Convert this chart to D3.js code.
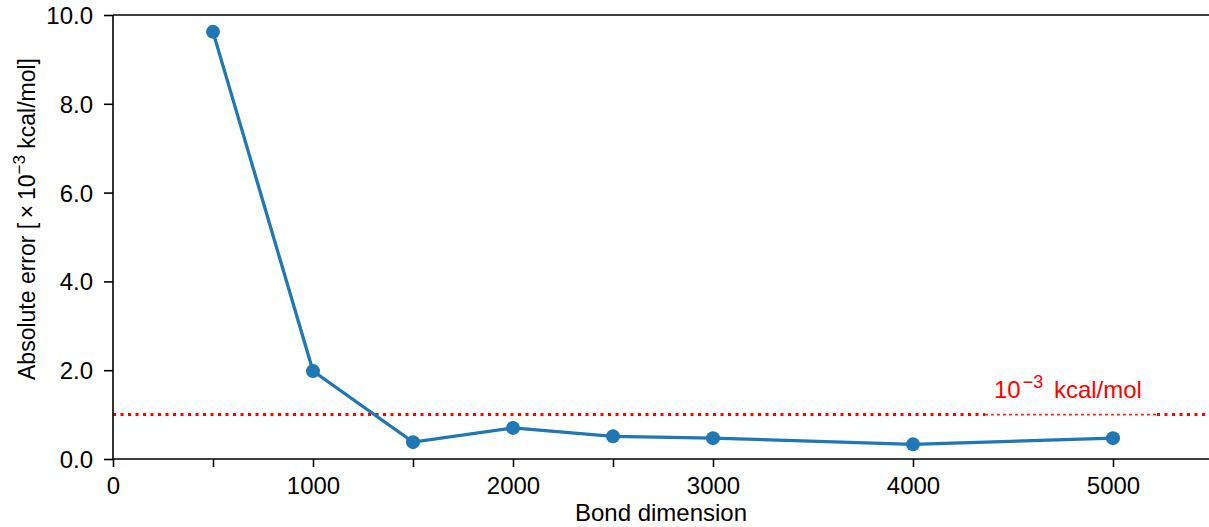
<!DOCTYPE html>
<html><head><meta charset="utf-8">
<script src="https://cdn.jsdelivr.net/npm/d3@7"></script>
<style>body{margin:0;background:#fff}svg{display:block}text{font-family:"Liberation Sans",Arial,sans-serif}</style>
</head><body>
<svg id="c" width="1209" height="527"></svg>
<script>
const bondDims = [500, 1000, 1500, 2000, 2500, 3000, 4000, 5000];
const absError = [9.62, 1.98, 0.38, 0.70, 0.51, 0.47, 0.33, 0.47];
const xTicks = [0, 500, 1000, 1500, 2000, 2500, 3000, 4000, 5000];
const xLabelTicks = [0, 1000, 2000, 3000, 4000, 5000];
const yTicks = [0, 2, 4, 6, 8, 10];
const threshold = 1.0;

const svg = d3.select("#c");
const L = 113, R = 1213, T = 15, B = 459;
const x = d3.scaleLinear().domain([0, 5500]).range([L, R]);
const y = d3.scaleLinear().domain([0, 10]).range([B, T]);
const fs = 24, sup = 18;

// threshold line
const ty = y(threshold);
const gap0 = 985, gap1 = 1157;
svg.append("line").attr("x1", L).attr("x2", gap0).attr("y1", ty).attr("y2", ty)
  .attr("stroke", "#ff0000").attr("stroke-width", 3).attr("stroke-dasharray", "3,4.5");
svg.append("line").attr("x1", gap0).attr("x2", gap1).attr("y1", ty).attr("y2", ty)
  .attr("stroke", "#ff0000").attr("stroke-width", 1.6).attr("stroke-dasharray", "3,3").attr("opacity", 0.85);
svg.append("line").attr("x1", gap1).attr("x2", 1209).attr("y1", ty).attr("y2", ty)
  .attr("stroke", "#ff0000").attr("stroke-width", 3).attr("stroke-dasharray", "3,4.5");

const lbl = svg.append("text").attr("x", 994).attr("y", 398).attr("fill", "#ff0000").attr("font-size", fs);
lbl.append("tspan").text("10");
lbl.append("tspan").attr("dy", -10).attr("dx", 2).attr("font-size", sup).text("\u22123");
lbl.append("tspan").attr("dy", 10).attr("dx", 4).text(" kcal/mol");

// data line
const line = d3.line().x((d, i) => x(bondDims[i])).y(d => y(d));
svg.append("path").datum(absError).attr("d", line).attr("fill", "none")
  .attr("stroke", "#1f77b4").attr("stroke-width", 3.3);
svg.selectAll("circle.pt").data(absError).enter().append("circle")
  .attr("cx", (d, i) => x(bondDims[i])).attr("cy", d => y(d)).attr("r", 7).attr("fill", "#1f77b4");

// axes
const xAxis = d3.axisBottom(x).tickValues(xTicks).tickSize(8).tickPadding(10)
  .tickFormat(d => xLabelTicks.includes(d) ? d3.format("d")(d) : "");
const gx = svg.append("g").attr("transform", `translate(0,${B})`).call(xAxis);
const yAxis = d3.axisLeft(y).tickValues(yTicks).tickSize(9).tickPadding(11).tickFormat(d3.format(".1f"));
const gy = svg.append("g").attr("transform", `translate(${L},0)`).call(yAxis);
[gx, gy].forEach(g => {
  g.selectAll("text").attr("font-size", fs).attr("fill", "#000").style("font-family", '"Liberation Sans",Arial,sans-serif');
  g.selectAll("line").attr("stroke", "#000").attr("stroke-width", 1.6);
  g.select(".domain").remove();
});
gy.selectAll("text").attr("dy", "0.35em");

// spines
svg.append("line").attr("x1", L).attr("x2", 1209).attr("y1", T).attr("y2", T).attr("stroke", "#000").attr("stroke-width", 1.6);
svg.append("line").attr("x1", L).attr("x2", 1209).attr("y1", B).attr("y2", B).attr("stroke", "#000").attr("stroke-width", 1.6);
svg.append("line").attr("x1", L).attr("x2", L).attr("y1", T).attr("y2", B).attr("stroke", "#000").attr("stroke-width", 1.6);

// axis labels
svg.append("text").attr("x", 661).attr("y", 521).attr("text-anchor", "middle").attr("font-size", fs).text("Bond dimension");
const yl = svg.append("text").attr("transform", "translate(35,219) rotate(-90)").attr("text-anchor", "middle").attr("font-size", 23);
yl.append("tspan").text("Absolute error [\u2009\u00d7\u200910");
yl.append("tspan").attr("dy", -10).attr("font-size", 17).text("\u22123");
yl.append("tspan").attr("dy", 10).text(" kcal/mol]");
</script>
</body></html>
